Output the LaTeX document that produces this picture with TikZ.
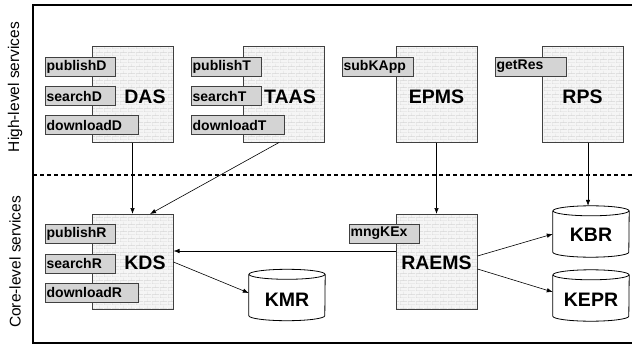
\documentclass[tikz,border=0pt]{standalone}
\usepackage{fontspec}
\setmainfont{Liberation Sans}
\usetikzlibrary{arrows.meta,patterns.meta}

% fine brick texture for the service boxes
\tikzdeclarepattern{
  name=smallbricks,
  type=uncolored,
  bounding box={(0pt,0pt) and (8pt,6.6pt)},
  tile size={(8pt,6.6pt)},
  code={
    \draw[line width=0.45pt] (0pt,0.2pt) -- (8pt,0.2pt) (0pt,3.5pt) -- (8pt,3.5pt)
      (0.2pt,0.2pt) -- (0.2pt,3.5pt) (4.2pt,3.5pt) -- (4.2pt,6.6pt);
  }
}

% cylinder drawn around a (borderless) node
\newcommand\drawdatabase[1]{%
  \draw[dbline] ([yshift=-5pt]#1.north west) -- ([yshift=5pt]#1.south west)
    arc[start angle=180, end angle=360, x radius=38pt, y radius=5pt]
    -- ([yshift=-5pt]#1.north east);
  \draw[dbline] ([yshift=-5pt]#1.north) ellipse [x radius=38pt, y radius=5pt];
}

\begin{document}
\begin{tikzpicture}[x=1pt,y=-1pt,
  every node/.style={inner sep=0pt},
  svc/.style={draw=black!75, line width=1pt, minimum width=81pt, minimum height=95pt,
    preaction={fill=black!4}, pattern=smallbricks, pattern color=black!16},
  port/.style={draw=black!75, line width=0.9pt, fill=black!17, anchor=west,
    minimum height=19pt, text width=#1, align=left, inner xsep=1.2pt,
    font=\fontsize{14}{14}\selectfont\bfseries},
  port/.default=67.6pt,
  big/.style={font=\fontsize{19.5}{19.5}\selectfont\bfseries},
  db/.style={minimum width=76pt, minimum height=51pt},
  dbline/.style={draw=black, line width=0.8pt},
  link/.style={line width=0.6pt, -{Latex[length=6pt,width=4.5pt]}},
  side/.style={rotate=90, font=\fontsize{15.5}{15.5}\selectfont}
]
\clip (0,0) rectangle (632,345);

% frame and layer separator
\draw[line width=1.2pt] (645,5) -- (33,5) -- (33,343) -- (645,343);
\draw[line width=1.1pt, dash pattern=on 4pt off 3pt] (33,175) -- (645,175);
\node[side] (hl) at (15,87) {High-level services};
\node[side] (cl) at (15,262) {Core-level services};

% high-level services
\node[svc] (das)  at (132.5,94.5) {};
\node[svc] (taas) at (284,94.5) {};
\node[svc] (epms) at (436.5,94.5) {};
\node[svc] (rps)  at (582.5,94.5) {};
\node[big] (dasl)  at (145,97) {DAS};
\node[big] (taasl) at (290,97) {TAAS};
\node[big] (epmsl) at (436.5,97) {EPMS};
\node[big] (rpsl)  at (582.5,97) {RPS};

\node[port] (pd) at (45,66.5) {publishD};
\node[port] (sd) at (45,96) {searchD};
\node[port=90.6pt] (dd) at (45,125) {downloadD};
\node[port] (pt) at (191,66.5) {publishT};
\node[port] (st) at (191,96) {searchT};
\node[port=90.6pt] (dt) at (191,125) {downloadT};
\node[port=68.6pt] (sk) at (342,66.5) {subKApp};
\node[port=68.6pt] (gr) at (495,66.5) {getRes};

% core-level services
\node[svc] (kds)   at (132.5,262) {};
\node[svc] (raems) at (436.5,262) {};
\node[big] (kdsl)   at (145,263) {KDS};
\node[big] (raemsl) at (436.5,263) {RAEMS};

\node[port] (pr) at (45,234) {publishR};
\node[port] (sr) at (45,263.5) {searchR};
\node[port=90.6pt] (dr) at (45,292.5) {downloadR};
\node[port] (mk) at (349,233.5) {mngKEx};

% repositories
\node[db] (kmr)  at (287,295) {};
\node[db] (kbr)  at (591,231.5) {};
\node[db] (kepr) at (591,295.5) {};
\drawdatabase{kmr}
\drawdatabase{kbr}
\drawdatabase{kepr}
\node[big] (kmrl)  at (287,300) {KMR};
\node[big] (kbrl)  at (591,235) {KBR};
\node[big] (keprl) at (591,300) {KEPR};

% connectors
\draw[link] (das.south) -- (kds.north);
\draw[link] ([xshift=-5pt]taas.south) -- ([xshift=17.5pt]kds.north);
\draw[link] (epms.south) -- (raems.north);
\draw[link] ([xshift=5.5pt]rps.south) -- ([xshift=5.5pt]rps.south |- kbr.north);
\draw[link] ([yshift=11pt]raems.west) -- ([yshift=11pt]kds.east);
\draw[link] (kds.east) -- ([yshift=2pt]kmr.west);
\draw[link] ([yshift=6pt]raems.east) -- ([yshift=-2.5pt]kbr.west);
\draw[link] ([yshift=-7pt]raems.east) -- ([yshift=3.5pt]kepr.west);
\end{tikzpicture}
\end{document}
